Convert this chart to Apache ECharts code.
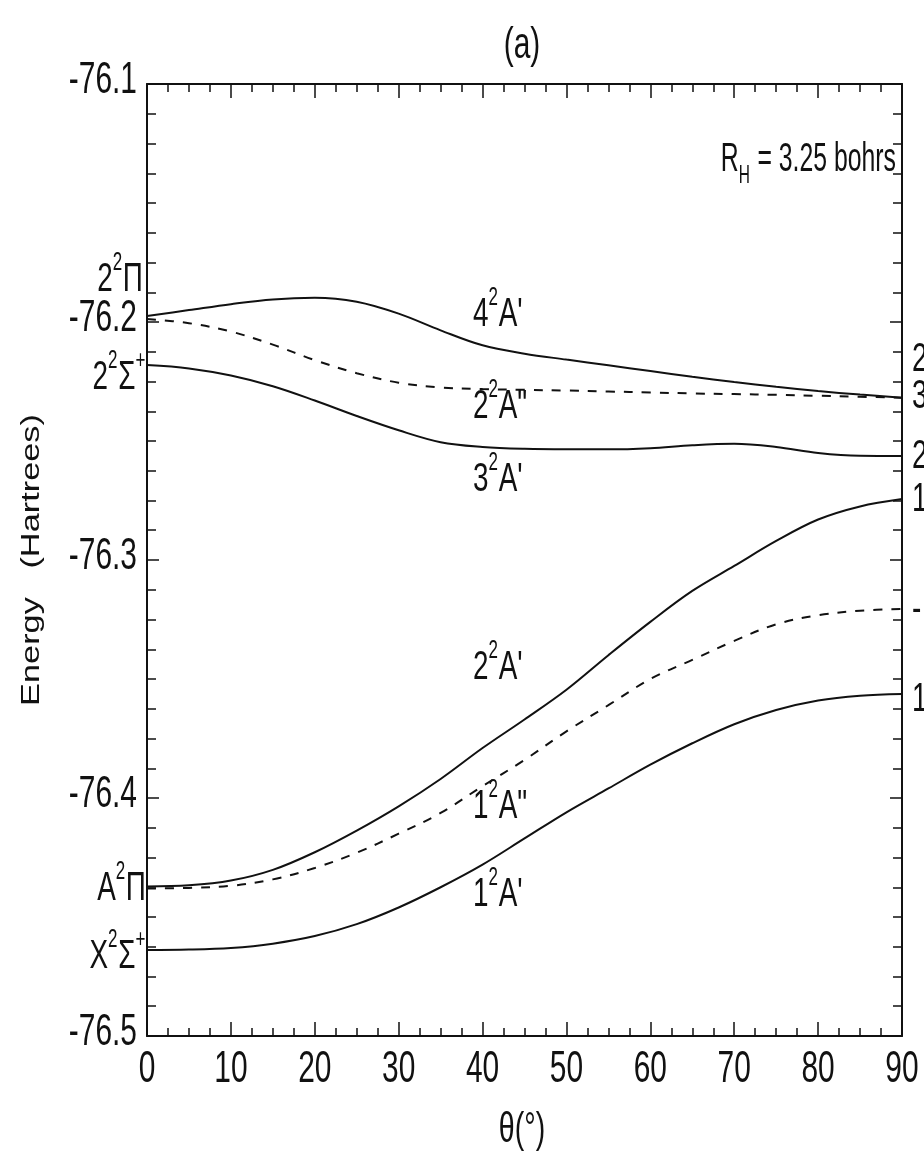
<!DOCTYPE html>
<html>
<head>
<meta charset="utf-8">
<script src="https://cdn.jsdelivr.net/npm/echarts@6/dist/echarts.min.js"></script>
<style>
  html, body { margin: 0; padding: 0; background: #fff; }
  #chart { width: 924px; height: 1158px; }
</style>
</head>
<body>
<div id="chart"></div>
<script>
// Bending angle grid (degrees)
const theta = [0, 5, 10, 15, 20, 25, 30, 35, 40, 45, 50, 55, 60, 65, 70, 75, 80, 85, 90];

// Potential energies (Hartrees) at R_H = 3.25 bohrs
const e4A1 = [-76.1975, -76.1950, -76.1925, -76.1905, -76.1898, -76.1915, -76.1965, -76.2035, -76.2098, -76.2133,
              -76.2158, -76.2182, -76.2206, -76.2230, -76.2252, -76.2272, -76.2290, -76.2305, -76.2318];
const e2A2 = [-76.1987, -76.2005, -76.2040, -76.2095, -76.2160, -76.2215, -76.2255, -76.2275, -76.2282, -76.2285,
              -76.2288, -76.2292, -76.2296, -76.2300, -76.2303, -76.2306, -76.2310, -76.2314, -76.2318];
const e3A1 = [-76.2181, -76.2195, -76.2225, -76.2270, -76.2330, -76.2395, -76.2455, -76.2505, -76.2525, -76.2533,
              -76.2535, -76.2535, -76.2530, -76.2518, -76.2512, -76.2525, -76.2550, -76.2562, -76.2563];
const e2A1 = [-76.4372, -76.4367, -76.4347, -76.4302, -76.4228, -76.4137, -76.4035, -76.3920, -76.3790, -76.3670,
              -76.3545, -76.3400, -76.3260, -76.3130, -76.3025, -76.2920, -76.2830, -76.2775, -76.2744];
const e1A2 = [-76.4380, -76.4378, -76.4369, -76.4342, -76.4294, -76.4230, -76.4150, -76.4063, -76.3950, -76.3840,
              -76.3720, -76.3610, -76.3500, -76.3420, -76.3340, -76.3270, -76.3232, -76.3213, -76.3206];
const e1A1 = [-76.4639, -76.4637, -76.4630, -76.4612, -76.4580, -76.4530, -76.4460, -76.4375, -76.4280, -76.4170,
              -76.4060, -76.3960, -76.3860, -76.3770, -76.3690, -76.3630, -76.3590, -76.3570, -76.3563];

// Tick values
const xTicks = [0, 10, 20, 30, 40, 50, 60, 70, 80, 90];
const yTicks = [-76.5, -76.4, -76.3, -76.2, -76.1];

const FONT = "'Liberation Sans', Arial, sans-serif";
const INK = '#111';
const SQUEEZE = 0.68;   // condensed lettering

const measureCtx = document.createElement('canvas').getContext('2d');
function textWidth(t, size) {
  measureCtx.font = size + 'px ' + FONT;
  return measureCtx.measureText(t).width;
}

// Label built from parts such as 4, superscript 2, A'
function stateLabel(parts, x, y, size, alignRight, squeeze) {
  const small = Math.round(size * 0.62);
  const widths = parts.map(p => textWidth(p.t, (p.sup || p.sub) ? small : size) + ((p.sup || p.sub) ? 1 : 0));
  const total = widths.reduce((a, b) => a + b, 0);
  let cx = alignRight ? -total : 0;
  const children = [];
  parts.forEach((p, i) => {
    children.push({
      type: 'text',
      x: cx,
      y: p.sup ? -size * 0.42 : (p.sub ? size * 0.40 : 0),
      style: {
        text: p.t,
        fontSize: (p.sup || p.sub) ? small : size,
        fontFamily: FONT,
        fill: INK,
        align: 'left',
        verticalAlign: 'middle'
      }
    });
    cx += widths[i];
  });
  return { type: 'group', x: x, y: y, scaleX: squeeze || SQUEEZE, children: children };
}

function plainText(t, x, y, size, align, extra) {
  return Object.assign({
    type: 'text', x: x, y: y, scaleX: SQUEEZE,
    style: { text: t, fontSize: size, fontFamily: FONT, fill: INK, align: align, verticalAlign: 'middle' }
  }, extra || {});
}

const chart = echarts.init(document.getElementById('chart'), null, { renderer: 'canvas' });

function curve(name, data, dashed) {
  return {
    name: name,
    type: 'line',
    data: theta.map((t, i) => [t, data[i]]),
    smooth: 0.35,
    symbol: 'none',
    silent: true,
    lineStyle: { color: INK, width: 2, type: dashed ? [9, 9] : 'solid' },
    z: 3
  };
}

const tickStyle = { color: INK, width: 1.5 };
function xAxisDef(pos) {
  return {
    type: 'value', min: xTicks[0], max: xTicks[xTicks.length - 1], interval: 10,
    position: pos,
    axisLine: { show: true, onZero: false, lineStyle: { color: INK, width: 2 } },
    axisTick: { show: true, inside: true, length: 14, lineStyle: tickStyle },
    minorTick: { show: true, splitNumber: 4, length: 8, lineStyle: tickStyle },
    splitLine: { show: false },
    axisLabel: { show: false }
  };
}
function yAxisDef(pos) {
  return {
    type: 'value', min: yTicks[0], max: yTicks[yTicks.length - 1], interval: 0.1,
    position: pos,
    axisLine: { show: true, onZero: false, lineStyle: { color: INK, width: 2 } },
    axisTick: { show: true, inside: true, length: 12, lineStyle: tickStyle },
    minorTick: { show: true, splitNumber: 8, length: 9, lineStyle: tickStyle },
    splitLine: { show: false },
    axisLabel: { show: false }
  };
}

chart.setOption({
  animation: false,
  backgroundColor: '#fff',
  grid: { left: 147, right: 22, top: 84, bottom: 122, show: false },
  xAxis: [xAxisDef('bottom'), xAxisDef('top')],
  yAxis: [yAxisDef('left'), yAxisDef('right')],
  series: [
    curve("4 2A'", e4A1, false),
    curve('2 2A"', e2A2, true),
    curve("3 2A'", e3A1, false),
    curve("2 2A'", e2A1, false),
    curve('1 2A"', e1A2, true),
    curve("1 2A'", e1A1, false)
  ]
});

// Tick labels placed through the axis scales
const graphics = [];
xTicks.forEach(v => {
  const px = chart.convertToPixel({ xAxisIndex: 0 }, v);
  graphics.push(plainText(String(v), px, 1070, 44, 'center'));
});
yTicks.forEach(v => {
  const py = chart.convertToPixel({ yAxisIndex: 0 }, v);
  graphics.push(plainText(v.toFixed(1), 137, py - 3, 44, 'right'));
});

// Panel tag and axis titles
const S = 41;
graphics.push(
  plainText('(a)', 522, 46, 44, 'center'),
  plainText('θ(°)', 522, 1130, 42, 'center'),
  {
    type: 'text', x: 32, y: 560, rotation: Math.PI / 2, scaleX: 1.32,
    style: { text: 'Energy   (Hartrees)', fontSize: 26, fontFamily: FONT, fill: INK, align: 'center', verticalAlign: 'middle' }
  },
  stateLabel([{ t: 'R' }, { t: 'H', sub: true }, { t: ' = 3.25 bohrs' }], 896, 160, 40, true, 0.62),

  // asymptotic states on the linear geometry
  stateLabel([{ t: '2' }, { t: '2', sup: true }, { t: 'Π' }], 143, 280, S, true),
  stateLabel([{ t: '2' }, { t: '2', sup: true }, { t: 'Σ' }, { t: '+', sup: true }], 146, 378, S, true),
  stateLabel([{ t: 'A' }, { t: '2', sup: true }, { t: 'Π' }], 146, 889, S, true),
  stateLabel([{ t: 'X' }, { t: '2', sup: true }, { t: 'Σ' }, { t: '+', sup: true }], 146, 957, S, true),

  // bent-geometry states
  stateLabel([{ t: '4' }, { t: '2', sup: true }, { t: "A'" }], 473, 315, S, false),
  stateLabel([{ t: '2' }, { t: '2', sup: true }, { t: 'A"' }], 473, 407, S, false),
  stateLabel([{ t: '3' }, { t: '2', sup: true }, { t: "A'" }], 473, 480, S, false),
  stateLabel([{ t: '2' }, { t: '2', sup: true }, { t: "A'" }], 473, 668, S, false),
  stateLabel([{ t: '1' }, { t: '2', sup: true }, { t: 'A"' }], 473, 807, S, false),
  stateLabel([{ t: '1' }, { t: '2', sup: true }, { t: "A'" }], 473, 895, S, false)
);

// Labels of the neighbouring panel, cut by the right edge
const edgeLabels = [['2', 360], ['3', 397], ['2', 457], ['1', 500], ['-', 610], ['1', 700]];
edgeLabels.forEach(([t, y]) => {
  graphics.push(plainText(t, 912, y, S, 'left'));
});

chart.setOption({ graphic: graphics });
</script>
</body>
</html>
